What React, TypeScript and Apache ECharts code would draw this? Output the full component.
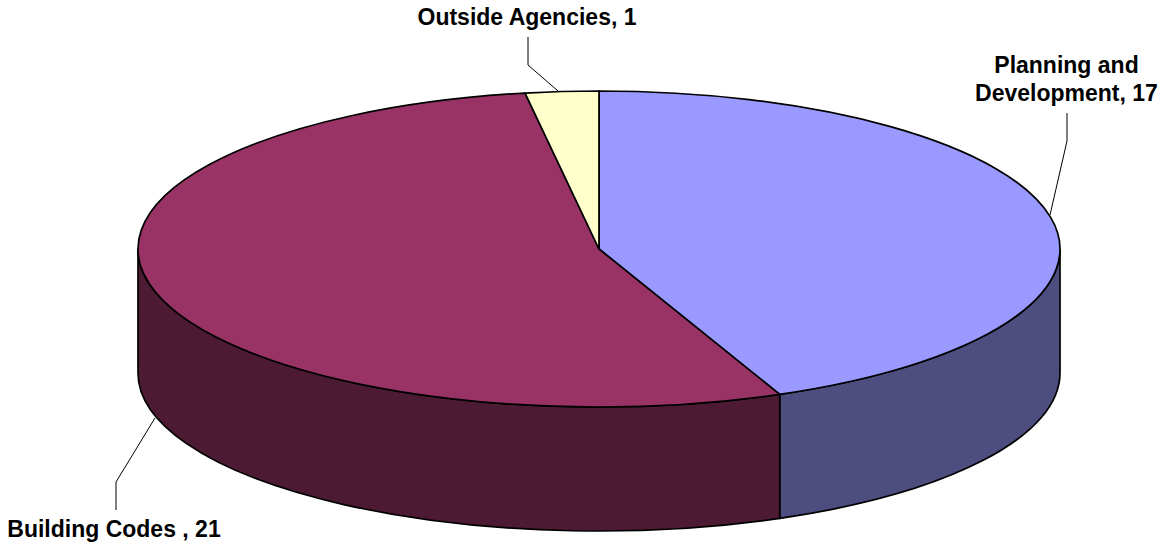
import React, { useEffect, useRef } from "react";
import * as echarts from "echarts";

const categories = ["Planning and\nDevelopment", "Building Codes ", "Outside Agencies"];
const values = [17, 21, 1];
const topColors = ["#9999FF", "#993366", "#FFFFCC"];
const sideColors = ["#4D4D80", "#4D1A33", "#808066"];

const CX = 599;
const CY = 249;
const RX = 461;
const RY = 158;
const DEPTH = 124;

const labelLayout = [
  { x: 1066.5, y: 79, leader: [[1067, 113], [1067, 141], [1050, 215]] },
  { x: 114, y: 529, leader: [[116, 510], [116, 482], [155, 418]] },
  { x: 527, y: 17, leader: [[528, 37], [528, 65], [558, 91]] },
];

const total = values.reduce((a, b) => a + b, 0);
const startAngles: number[] = [];
values.reduce((acc, v, i) => {
  startAngles[i] = acc;
  return acc + (v / total) * Math.PI * 2;
}, 0);

const px = (t: number) => CX + RX * Math.sin(t);
const py = (t: number, dy = 0) => CY - RY * Math.cos(t) + dy;

function arcTo(a: number, b: number, dy: number) {
  const large = Math.abs(b - a) > Math.PI ? 1 : 0;
  const sweep = b > a ? 1 : 0;
  return `A ${RX} ${RY} 0 ${large} ${sweep} ${px(b)} ${py(b, dy)}`;
}

function topPath(a: number, b: number) {
  return `M ${CX} ${CY} L ${px(a)} ${py(a)} ${arcTo(a, b, 0)} Z`;
}

function sidePath(a: number, b: number) {
  const s = Math.max(a, Math.PI / 2);
  const e = Math.min(b, (Math.PI * 3) / 2);
  if (e <= s) return null;
  return `M ${px(s)} ${py(s)} ${arcTo(s, e, 0)} L ${px(e)} ${py(e, DEPTH)} ${arcTo(e, s, DEPTH)} Z`;
}

export default function App() {
  const ref = useRef<HTMLDivElement>(null);
  useEffect(() => {
    const chart = echarts.init(ref.current!, null, { renderer: "svg" });
    chart.setOption({
      animation: false,
      backgroundColor: "#FFFFFF",
      series: [
        {
          type: "custom",
          coordinateSystem: "none",
          silent: true,
          data: values.map((v, i) => [i, v]),
          renderItem: (_params: any, api: any) => {
            const i = api.value(0) as number;
            const v = api.value(1) as number;
            const a = startAngles[i];
            const b = a + (v / total) * Math.PI * 2;
            const children: any[] = [];
            const side = sidePath(a, b);
            if (side) {
              children.push({
                type: "path",
                shape: { pathData: side },
                style: { fill: sideColors[i], stroke: "#000000", lineWidth: 1.7 },
              });
            }
            children.push({
              type: "path",
              shape: { pathData: topPath(a, b) },
              style: { fill: topColors[i], stroke: "#000000", lineWidth: 1.7 },
            });
            const l = labelLayout[i];
            children.push({
              type: "polyline",
              shape: { points: l.leader },
              style: { fill: "none", stroke: "#000000", lineWidth: 1 },
            });
            children.push({
              type: "text",
              style: {
                text: `${categories[i]}, ${v}`,
                x: l.x,
                y: l.y,
                align: "center",
                verticalAlign: "middle",
                fontFamily: "Liberation Sans",
                fontWeight: "bold",
                fontSize: 23,
                lineHeight: 28,
                fill: "#000000",
              },
            });
            return { type: "group", children };
          },
        },
      ],
    });
    return () => chart.dispose();
  }, []);
  return <div ref={ref} style={{ position: "absolute", left: 0, top: 0, width: 1165, height: 546 }} />;
}
